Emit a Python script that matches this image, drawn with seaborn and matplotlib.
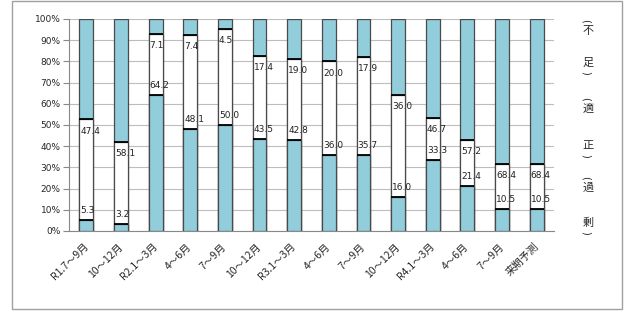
"""Stacked 100% bars: 不足 / 適正 / 過剰 by quarter."""
import matplotlib
matplotlib.use("Agg")
import matplotlib.pyplot as plt
import matplotlib.patches as mpatches
import pandas as pd
import seaborn as sns

periods = ["R1.7～9月", "10～12月", "R2.1～3月", "4～6月", "7～9月", "10～12月",
           "R3.1～3月", "4～6月", "7～9月", "10～12月", "R4.1～3月", "4～6月",
           "7～9月", "来期予測"]
kajo = [5.3, 3.2, 64.2, 48.1, 50.0, 43.5, 42.8, 36.0, 35.7, 16.0, 33.3, 21.4, 10.5, 10.5]
fusoku = [47.4, 58.1, 7.1, 7.4, 4.5, 17.4, 19.0, 20.0, 17.9, 36.0, 46.7, 57.2, 68.4, 68.4]
side_labels = [("不", "足"), ("適", "正"), ("過", "剰")]

BLUE = "#92CDDC"
EDGE = "#4a4a4a"

sns.set_style("white")
plt.rcParams["font.family"] = ["DejaVu Sans", "Noto Sans CJK JP"]

df = pd.DataFrame({"pos": range(len(periods)), "kajo": kajo, "fusoku": fusoku})
df["total"] = 100.0
df["upper"] = 100.0 - df["fusoku"]

fig = plt.figure(figsize=(6.27, 3.14), dpi=100)
ax = fig.add_axes([69 / 627, 1 - 231 / 314, (554 - 69) / 627, (231 - 19) / 314])

# layers: whole bar (不足), white up to 過剰+適正, then 過剰
sns.barplot(data=df, x="pos", y="total", color=BLUE, saturation=1, width=0.4,
            edgecolor=EDGE, linewidth=0.9, ax=ax, zorder=3)
sns.barplot(data=df, x="pos", y="upper", color="white", saturation=1, width=0.4,
            edgecolor=EDGE, linewidth=0.9, ax=ax, zorder=3)
sns.barplot(data=df, x="pos", y="kajo", color=BLUE, saturation=1, width=0.4,
            edgecolor=EDGE, linewidth=0.9, ax=ax, zorder=3)

# black divider lines at segment boundaries
for i, row in df.iterrows():
    for yv in (row["kajo"], row["upper"]):
        ax.plot([i - 0.2, i + 0.2], [yv, yv], color="black", lw=1.3, zorder=4,
                solid_capstyle="butt")
    ax.text(i - 0.17, row["kajo"] + 4.5, f"{row['kajo']:.1f}", ha="left",
            va="center", fontsize=6.5, color="#222222", zorder=5)
    ax.text(i - 0.17, row["upper"] - 5.5, f"{row['fusoku']:.1f}", ha="left",
            va="center", fontsize=6.5, color="#222222", zorder=5)

ax.set_xlim(-0.5, len(periods) - 0.5)
ax.set_ylim(0, 100)
ax.set_yticks(range(0, 101, 10))
ax.set_yticklabels([f"{v}%" for v in range(0, 101, 10)], fontsize=6.5)
ax.yaxis.grid(True, color="#bdbdbd", lw=0.8, zorder=0)
ax.set_axisbelow(True)

ax.set_xticks(range(len(periods)))
ax.set_xticklabels(periods, rotation=45, ha="right", va="center",
                   rotation_mode="anchor", fontsize=7.5,
                   family=["Noto Sans CJK JP", "DejaVu Sans"])
ax.set_xticks([i + 0.5 for i in range(-1, len(periods))], minor=True)
ax.tick_params(axis="x", which="major", length=0, pad=10)
ax.tick_params(axis="x", which="minor", length=4, color="#888888", direction="out")
ax.tick_params(axis="y", length=4, color="#888888", direction="out", pad=2, left=True)
ax.set_xlabel("")
ax.set_ylabel("")

for side in ("top", "right"):
    ax.spines[side].set_visible(False)
for side in ("left", "bottom"):
    ax.spines[side].set_color("#888888")
    ax.spines[side].set_linewidth(0.8)

# vertical legend text on the right
cjk = ["Noto Sans CJK JP", "DejaVu Sans"]
x_char = 588 / 627
pair_y = [(31, 63), (109, 146), (188, 223)]
for (c1, c2), (y1, y2) in zip(side_labels, pair_y):
    fig.text(x_char - 0.004, 1 - (y1 - 10) / 314, "(", ha="center", va="center",
             fontsize=7, rotation=-90)
    fig.text(x_char, 1 - y1 / 314, c1, ha="center", va="center", fontsize=8, family=cjk)
    fig.text(x_char, 1 - y2 / 314, c2, ha="center", va="center", fontsize=8, family=cjk)
    fig.text(x_char - 0.004, 1 - (y2 + 10) / 314, ")", ha="center", va="center",
             fontsize=7, rotation=-90)

# outer frame
fig.patches.append(mpatches.Rectangle((12 / 627, 5 / 314), 610 / 627, 308 / 314,
                                      transform=fig.transFigure, fill=False,
                                      edgecolor="#a0a0a0", lw=1.0))

fig.savefig("out.png", dpi=100)
